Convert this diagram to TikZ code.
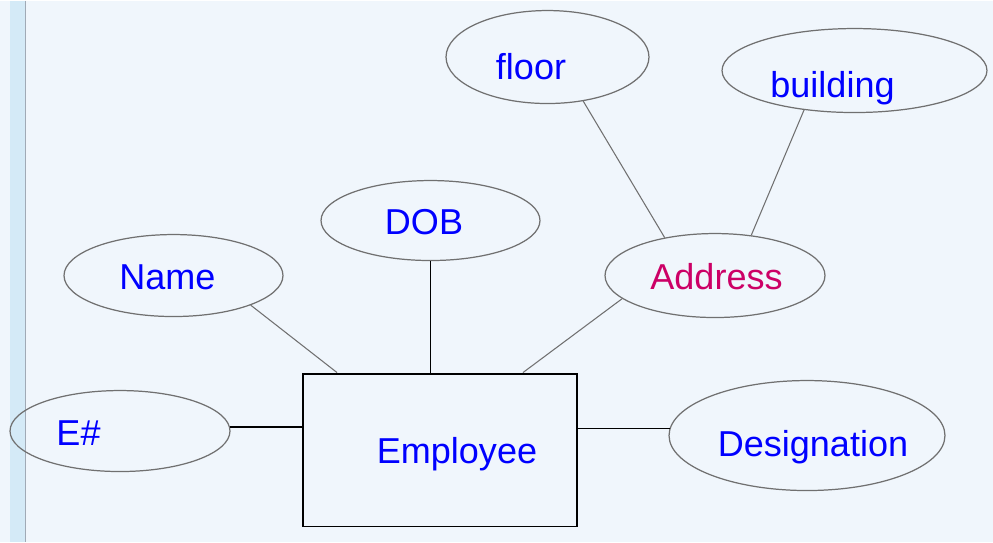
\documentclass[tikz,border=0pt]{standalone}
\usepackage{fontspec}
\setmainfont{Liberation Sans}
\usetikzlibrary{shapes}
\definecolor{pagebg}{RGB}{240,246,252}
\definecolor{sidebar}{RGB}{212,234,247}
\definecolor{sideline}{RGB}{160,170,182}
\definecolor{edgegray}{RGB}{112,112,112}
\definecolor{attrblue}{RGB}{0,0,255}
\definecolor{compred}{RGB}{204,0,102}
% text set off the centre of its shape: #1 to the right, #2 up to the baseline
\newcommand{\attrtext}[3]{\raisebox{#2}[0pt][0pt]{\makebox[0pt]{\hspace*{#1}\hspace*{#1}#3}}}

\begin{document}
\begin{tikzpicture}[x=0.02cm,y=-0.02cm]
\tikzstyle{every node}=[font=\fontsize{20.5}{24}\selectfont,text=attrblue,inner sep=0pt]
\tikzstyle{attr}=[ellipse,draw=edgegray,line width=0.7pt]
\tikzstyle{entity}=[rectangle,draw=black,line width=1.1pt,minimum width=5.48cm,minimum height=3.06cm]
\tikzstyle{link}=[black,line width=0.8pt]
\tikzstyle{sublink}=[edgegray,line width=0.6pt]

% page
\fill[pagebg] (0,0) rectangle (993,541);
\fill[sidebar] (10,0) rectangle (25,541);
\draw[sideline,line width=0.6pt] (25.5,0) -- (25.5,541);
\useasboundingbox (0,0) rectangle (993,541);

\node[entity] (emp) at (440,449.5) {\attrtext{0.34cm}{-0.27cm}{Employee}};

\node[attr,minimum width=4.4cm,minimum height=1.62cm] (ehash) at (120,430.5) {\attrtext{-0.83cm}{-0.29cm}{E\#}};
\node[attr,minimum width=4.38cm,minimum height=1.64cm] (name) at (173.5,275) {\attrtext{-0.12cm}{-0.28cm}{Name}};
\node[attr,minimum width=4.38cm,minimum height=1.6cm] (dob) at (430.5,220) {\attrtext{-0.13cm}{-0.28cm}{DOB}};
\node[attr,minimum width=4.4cm,minimum height=1.68cm,text=compred] (address) at (715,275) {\attrtext{0.03cm}{-0.28cm}{Address}};
\node[attr,minimum width=5.52cm,minimum height=2.2cm] (desig) at (807,435) {\attrtext{0.12cm}{-0.42cm}{Designation}};
\node[attr,minimum width=4.06cm,minimum height=1.86cm] (floor) at (547.5,56.5) {\attrtext{-0.33cm}{-0.45cm}{floor}};
\node[attr,minimum width=5.3cm,minimum height=1.68cm] (building) at (854.5,70) {\attrtext{-0.44cm}{-0.54cm}{building}};

% attributes of Employee
\draw[link] (ehash.2) -- (ehash.2 -| emp.west);
\draw[link] (dob.south) -- (dob.south |- emp.north);
\draw[link] (emp.east |- desig.177) -- (desig.177);
\draw[sublink] (name.-21) -- ([xshift=0.7cm]emp.north west);
\draw[sublink] (address.194) -- ([xshift=-1.1cm]emp.north east);
% parts of Address
\draw[sublink] (floor.-51) -- (address.143);
\draw[sublink] (building.-142) -- (address.48);
\end{tikzpicture}
\end{document}
